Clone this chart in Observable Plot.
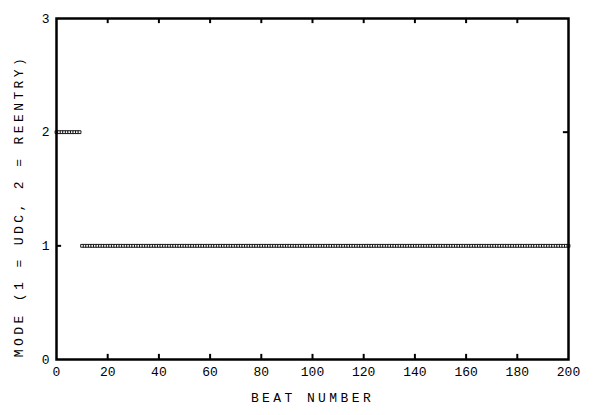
<!DOCTYPE html>
<html>
<head>
<meta charset="utf-8">
<script src="https://cdn.jsdelivr.net/npm/d3@7"></script>
<script src="https://cdn.jsdelivr.net/npm/@observablehq/plot@0.6"></script>
<style>
  html, body { margin: 0; padding: 0; background: #fff; }
  #chart svg { display: block; }
</style>
</head>
<body>
<div id="chart"></div>
<script>
// mode per beat, beat number = index (0..200)
const modes = [
  2,2,2,2,2,2,2,2,2,2,
  1,1,1,1,1,1,1,1,1,1, 1,1,1,1,1,1,1,1,1,1,
  1,1,1,1,1,1,1,1,1,1, 1,1,1,1,1,1,1,1,1,1,
  1,1,1,1,1,1,1,1,1,1, 1,1,1,1,1,1,1,1,1,1,
  1,1,1,1,1,1,1,1,1,1, 1,1,1,1,1,1,1,1,1,1,
  1,1,1,1,1,1,1,1,1,1, 1,1,1,1,1,1,1,1,1,1,
  1,1,1,1,1,1,1,1,1,1, 1,1,1,1,1,1,1,1,1,1,
  1,1,1,1,1,1,1,1,1,1, 1,1,1,1,1,1,1,1,1,1,
  1,1,1,1,1,1,1,1,1,1, 1,1,1,1,1,1,1,1,1,1,
  1,1,1,1,1,1,1,1,1,1, 1,1,1,1,1,1,1,1,1,1,
  1,1,1,1,1,1,1,1,1,1,
  1
];
const xTicks = [0, 20, 40, 60, 80, 100, 120, 140, 160, 180, 200];
const yTicks = [0, 1, 2, 3];
const xLabel = "BEAT NUMBER";
const yLabel = "MODE (1 = UDC, 2 = REENTRY)";

const data = modes.map((m, i) => ({beat: i, mode: m}));

const chart = Plot.plot({
  width: 602,
  height: 415,
  marginLeft: 56,
  marginRight: 34,
  marginTop: 18,
  marginBottom: 56,
  x: {domain: [0, 200]},
  y: {domain: [0, 3]},
  style: {fontFamily: "'Liberation Mono', 'DejaVu Sans Mono', monospace", fontSize: "13px", color: "#000", background: "#fff"},
  marks: [
    Plot.axisX({ticks: xTicks, tickSize: 0, tickPadding: 7, fontSize: 13, label: null, tickFormat: d3.format("d")}),
    Plot.axisY({ticks: yTicks, tickSize: 0, tickPadding: 7, fontSize: 13, label: null, tickFormat: d3.format("d")}),
    Plot.ruleX(xTicks.slice(1, -1), {x: d => d, y1: 0, y2: 0.045, stroke: "#000", strokeWidth: 2}),
    Plot.ruleX(xTicks.slice(1, -1), {x: d => d, y1: 3, y2: 2.955, stroke: "#000", strokeWidth: 2}),
    Plot.ruleY(yTicks.slice(1, -1), {y: d => d, x1: 0, x2: 2, stroke: "#000", strokeWidth: 2}),
    Plot.ruleY(yTicks.slice(1, -1), {y: d => d, x1: 200, x2: 198, stroke: "#000", strokeWidth: 2}),
    Plot.dot(data, {x: "beat", y: "mode", symbol: "square", r: 1.6, stroke: "#000", strokeWidth: 0.9, fill: "#fff"}),
    Plot.frame({stroke: "#000", strokeWidth: 2.5}),
    Plot.text([xLabel], {frameAnchor: "bottom", textAnchor: "middle", dy: 42, fontSize: 13, text: d => d, fill: "#000"}),
    Plot.text([yLabel], {frameAnchor: "left", textAnchor: "middle", dx: -38, dy: 17, rotate: -90, fontSize: 13, text: d => d, fill: "#000"})
  ]
});
d3.select(chart).selectAll("text")
  .filter(function () { return this.textContent === xLabel || this.textContent === yLabel; })
  .style("letter-spacing", "3.4px");
document.getElementById("chart").appendChild(chart);
</script>
</body>
</html>
